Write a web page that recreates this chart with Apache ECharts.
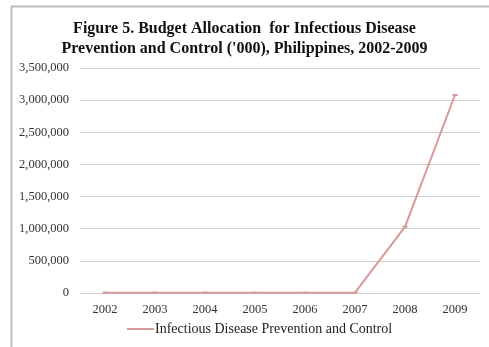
<!DOCTYPE html>
<html>
<head>
<meta charset="utf-8">
<script src="https://cdn.jsdelivr.net/npm/echarts@6/dist/echarts.min.js"></script>
<style>
  html, body { margin: 0; padding: 0; background: #fff; }
  #chart { width: 489px; height: 347px; }
</style>
</head>
<body>
<div id="chart"></div>
<script>
const years = ['2002', '2003', '2004', '2005', '2006', '2007', '2008', '2009']
const budget = [5000, 5000, 5000, 5000, 5000, 5000, 1030000, 3080000]
const seriesName = 'Infectious Disease Prevention and Control'

const chart = echarts.init(document.getElementById('chart'))
const serif = '"Liberation Serif", "Times New Roman", serif'
const lineColor = '#d9999a'

chart.setOption({
  animation: false,
  title: {
    text: "Figure 5. Budget Allocation  for Infectious Disease\nPrevention and Control ('000), Philippines, 2002-2009",
    left: 'center',
    top: 14,
    textStyle: { fontFamily: serif, fontSize: 16, fontWeight: 'bold', color: '#111', lineHeight: 20 }
  },
  graphic: [{
    type: 'rect',
    shape: { x: 11.5, y: 6.5, width: 500, height: 400 },
    style: { fill: 'none', stroke: '#bdbdbd', lineWidth: 2 }
  }],
  legend: {
    bottom: 6,
    left: 122,
    itemWidth: 27,
    itemGap: 0,
    icon: 'rect',
    itemHeight: 2,
    textStyle: { fontFamily: serif, fontSize: 14, color: '#222', padding: [0, 0, 0, -4] },
    data: [seriesName]
  },
  grid: { left: 80, right: 9, top: 68, bottom: 54 },
  xAxis: {
    type: 'category',
    data: years,
    boundaryGap: true,
    axisLine: { show: false },
    axisTick: { show: false },
    axisLabel: { fontFamily: serif, fontSize: 12.5, color: '#333', margin: 10 }
  },
  yAxis: {
    type: 'value',
    min: 0,
    max: 3500000,
    interval: 500000,
    axisLine: { show: false },
    axisTick: { show: false },
    splitLine: { lineStyle: { color: '#cfcfcf', width: 1 } },
    axisLabel: {
      fontFamily: serif, fontSize: 12.5, color: '#333', margin: 11,
      formatter: v => v.toLocaleString('en-US')
    }
  },
  series: [{
    name: seriesName,
    type: 'line',
    data: budget,
    symbol: 'rect',
    symbolSize: [5, 2],
    lineStyle: { color: lineColor, width: 2 },
    itemStyle: { color: lineColor }
  }]
})
</script>
</body>
</html>
